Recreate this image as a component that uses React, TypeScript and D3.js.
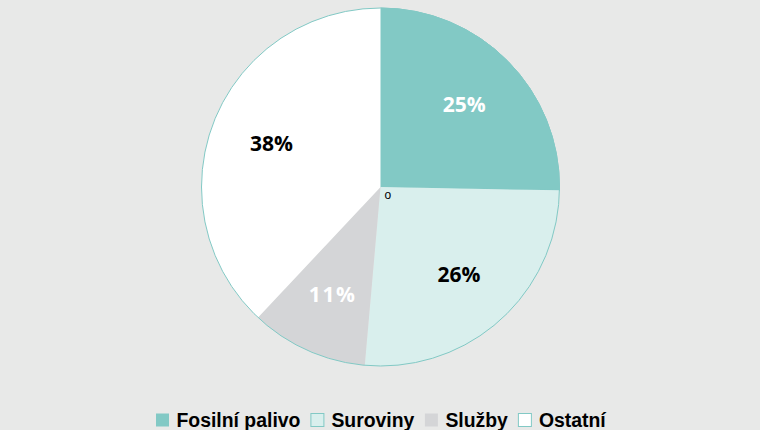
import React, { useEffect, useRef } from "react";
import * as d3 from "d3";

const categories = ["Fosilní palivo", "Suroviny", "Služby", "Ostatní"];
const values = [25.3, 26.1, 10.6, 38.0];
const labels = ["25%", "26%", "11%", "38%"];
const colors = ["#82c9c5", "#d9efed", "#d4d5d7", "#ffffff"];
const labelColors = ["#ffffff", "#000000", "#ffffff", "#000000"];

export default function App() {
  const ref = useRef<SVGSVGElement>(null);
  useEffect(() => {
    const svg = d3.select(ref.current);
    svg.selectAll("*").remove();
    const W = 760, H = 430;
    svg.append("rect").attr("width", W).attr("height", H).attr("fill", "#e8e9e8");
    const cx = 380.5, cy = 187, R = 179;
    const pie = d3.pie<number>().sort(null).value((d) => d);
    const arcs = pie(values);
    const arc = d3.arc<d3.PieArcDatum<number>>().innerRadius(0).outerRadius(R);
    const lab = d3.arc<d3.PieArcDatum<number>>().innerRadius(R * 0.655).outerRadius(R * 0.655);
    const g = svg.append("g").attr("transform", `translate(${cx},${cy})`);
    g.selectAll("path.s").data(arcs).enter().append("path")
      .attr("d", arc as any)
      .attr("fill", (_d, i) => colors[i])
      .attr("stroke", (_d, i) => (i === 0 ? colors[0] : "none"));
    g.append("circle").attr("r", R).attr("fill", "none").attr("stroke", "#82c9c5").attr("stroke-width", 1);
    g.selectAll("text.l").data(arcs).enter().append("text")
      .attr("transform", (d) => `translate(${lab.centroid(d)})`)
      .attr("text-anchor", "middle").attr("dy", "0.36em")
      .attr("font-family", "'Open Sans', sans-serif").attr("font-weight", "bold")
      .attr("font-size", 21).attr("fill", (_d, i) => labelColors[i])
      .attr("letter-spacing", (_d, i) => (i === 2 ? 1.5 : 0))
      .text((_d, i) => labels[i]);
    g.append("text").attr("x", 4).attr("y", 12).attr("font-family", "'Liberation Sans', Arial, sans-serif")
      .attr("font-size", 12).attr("fill", "#000").text("o");

    // legend
    const lg = svg.append("g");
    const fs = 19.4;
    let x = 0;
    const items: { x: number; i: number }[] = [];
    categories.forEach((c, i) => {
      const t = lg.append("text").attr("font-family", "'Liberation Sans', Arial, sans-serif")
        .attr("font-weight", "bold").attr("font-size", fs).attr("fill", "#000").text(c);
      const w = (t.node() as SVGTextElement).getComputedTextLength();
      t.attr("x", x + 21).attr("y", 0);
      items[i] = { x, i };
      x += 21 + w + 10;
    });
    items.forEach(({ x: ix, i }) => {
      lg.append("rect").attr("x", ix + 0.5).attr("y", -13).attr("width", 13).attr("height", 13)
        .attr("fill", colors[i]).attr("stroke", i % 2 === 1 ? "#82c9c5" : "none");
    });
    const total = x - 10;
    lg.attr("transform", `translate(${380.6 - total / 2},426.5)`);
  }, []);
  return (
    <svg ref={ref} width={760} height={430} style={{ position: "absolute", left: 0, top: 0 }} />
  );
}
